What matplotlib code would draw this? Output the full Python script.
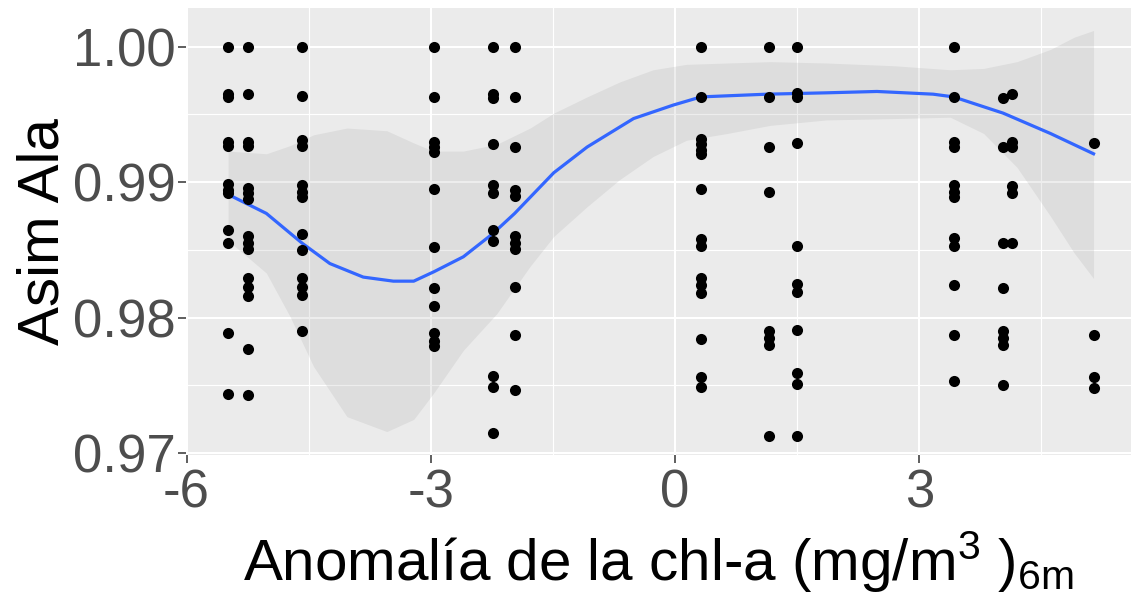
import matplotlib
matplotlib.use("Agg")
import matplotlib.pyplot as plt
import numpy as np

plt.rcParams['font.family'] = ['Liberation Sans', 'DejaVu Sans']
plt.rcParams['mathtext.fontset'] = 'custom'
plt.rcParams['mathtext.rm'] = 'Liberation Sans'
plt.rcParams['mathtext.it'] = 'Liberation Sans'

# ------------------------------------------------------
# Data
# ------------------------------------------------------
col_x = [-5.49, -5.24, -4.58, -2.96, -2.24, -1.97, 0.32, 1.155, 1.50, 3.42, 4.03, 4.14, 5.14]
col_y = [
    [1.0000, 0.9965, 0.9963, 0.9930, 0.9927, 0.9899, 0.9894, 0.9892, 0.9865, 0.9855, 0.9789, 0.9744],
    [1.0000, 0.9965, 0.9930, 0.9927, 0.9896, 0.9892, 0.9888, 0.9860, 0.9855, 0.9851, 0.9829, 0.9823,
     0.9816, 0.9777, 0.9743],
    [1.0000, 0.9964, 0.9931, 0.9927, 0.9898, 0.9893, 0.9889, 0.9862, 0.9850, 0.9829, 0.9823, 0.9817, 0.9790],
    [1.0000, 0.9963, 0.9930, 0.9926, 0.9922, 0.9895, 0.9852, 0.9822, 0.9809, 0.9789, 0.9783, 0.9779],
    [1.0000, 0.9965, 0.9962, 0.9928, 0.9898, 0.9892, 0.9865, 0.9857, 0.9757, 0.9749, 0.9715],
    [1.0000, 0.9963, 0.9926, 0.9894, 0.9890, 0.9860, 0.9855, 0.9851, 0.9823, 0.9787, 0.9747],
    [1.0000, 0.9963, 0.9932, 0.9928, 0.9924, 0.9921, 0.9895, 0.9858, 0.9853, 0.9829, 0.9824, 0.9818,
     0.9784, 0.9756, 0.9749],
    [1.0000, 0.9963, 0.9926, 0.9893, 0.9790, 0.9785, 0.9780, 0.9713],
    [1.0000, 0.9966, 0.9963, 0.9929, 0.9853, 0.9825, 0.9819, 0.9791, 0.9759, 0.9751, 0.9713],
    [1.0000, 0.9963, 0.9930, 0.9926, 0.9898, 0.9893, 0.9889, 0.9859, 0.9853, 0.9824, 0.9787, 0.9753],
    [0.9962, 0.9926, 0.9855, 0.9822, 0.9790, 0.9785, 0.9780, 0.9750],
    [0.9965, 0.9930, 0.9926, 0.9897, 0.9892, 0.9855],
    [0.9929, 0.9787, 0.9756, 0.9748],
]

# loess fit and its confidence band
fit_x = [-5.49, -5.02, -4.58, -4.24, -3.83, -3.46, -3.21, -2.96, -2.60, -2.24, -1.97, -1.49,
         -1.08, -0.51, -0.02, 0.32, 1.13, 1.86, 2.48, 3.17, 3.42, 4.03, 4.61, 5.14]
fit_y = [0.9891, 0.9877, 0.9855, 0.9840, 0.9830, 0.9827, 0.9827, 0.9834, 0.9845, 0.9862, 0.9877, 0.9907,
         0.9926, 0.9947, 0.9957, 0.9963, 0.9965, 0.9966, 0.9967, 0.9965, 0.9963, 0.9951, 0.9936, 0.9921]

band_x = [-5.49, -5.02, -4.73, -4.44, -4.03, -3.54, -3.21, -2.97, -2.60, -2.19, -1.78, -1.49, -1.08,
          -0.68, -0.27, 0.14, 0.64, 1.17, 1.86, 2.68, 3.38, 3.79, 4.20, 4.61, 4.90, 5.14]
band_hi = [0.9923, 0.9921, 0.9927, 0.9935, 0.9940, 0.9938, 0.9929, 0.9923, 0.9923, 0.9928, 0.9940, 0.9951,
           0.9963, 0.9974, 0.9983, 0.9987, 0.9988, 0.9989, 0.9988, 0.9986, 0.9983, 0.9984, 0.9989, 0.9998,
           1.0007, 1.0012]
band_lo = [0.9857, 0.9833, 0.9801, 0.9764, 0.9727, 0.9716, 0.9725, 0.9744, 0.9776, 0.9803, 0.9838, 0.9860,
           0.9882, 0.9902, 0.9919, 0.9931, 0.9936, 0.9942, 0.9946, 0.9947, 0.9948, 0.9936, 0.9911, 0.9875,
           0.9848, 0.9829]

x_ticks = [-6, -3, 0, 3]
x_labels = ['-6', '-3', '0', '3']
y_ticks = [0.97, 0.98, 0.99, 1.00]
y_labels = ['0.97', '0.98', '0.99', '1.00']

# ------------------------------------------------------
# Figure
# ------------------------------------------------------
W, H = 1131, 608
fig = plt.figure(figsize=(W / 100, H / 100), dpi=100)
ax = fig.add_axes([186 / W, (H - 455) / H, (W - 186) / W, (455 - 8) / H])

ax.set_facecolor('#ebebeb')
for s in ax.spines.values():
    s.set_visible(False)

ax.set_xlim(-6.007, 5.60)
ax.set_ylim(0.96987, 1.00286)

ax.set_xticks(x_ticks)
ax.set_xticklabels(x_labels)
ax.set_yticks(y_ticks)
ax.set_yticklabels(y_labels)
ax.set_xticks([-4.5, -1.5, 1.5, 4.5], minor=True)
ax.set_yticks([0.975, 0.985, 0.995], minor=True)

ax.grid(True, which='major', color='white', linewidth=1.5)
ax.grid(True, which='minor', color='white', linewidth=0.8)
ax.set_axisbelow(True)

ax.tick_params(which='major', length=5.5, width=1.1, color='#333333',
               labelsize=38, labelcolor='#4d4d4d', pad=2)
ax.tick_params(axis='x', which='major', pad=4)
ax.tick_params(which='minor', length=0)

ax.fill_between(band_x, band_lo, band_hi, color='#999999', alpha=0.17, linewidth=0, zorder=2)
ax.plot(fit_x, fit_y, color='#3366ff', linewidth=2.3, zorder=3)

px = np.concatenate([[x] * len(ys) for x, ys in zip(col_x, col_y)])
py = np.concatenate(col_y)
ax.scatter(px, py, s=64, color='black', linewidths=0, zorder=4)

ax.set_ylabel('Asim Ala', fontsize=42, labelpad=2)
ax.set_xlabel('Anomalía de la chl-a (mg/m$^{3}$ )$_{6m}$', fontsize=42, labelpad=8)

fig.savefig('out.png', dpi=100)
